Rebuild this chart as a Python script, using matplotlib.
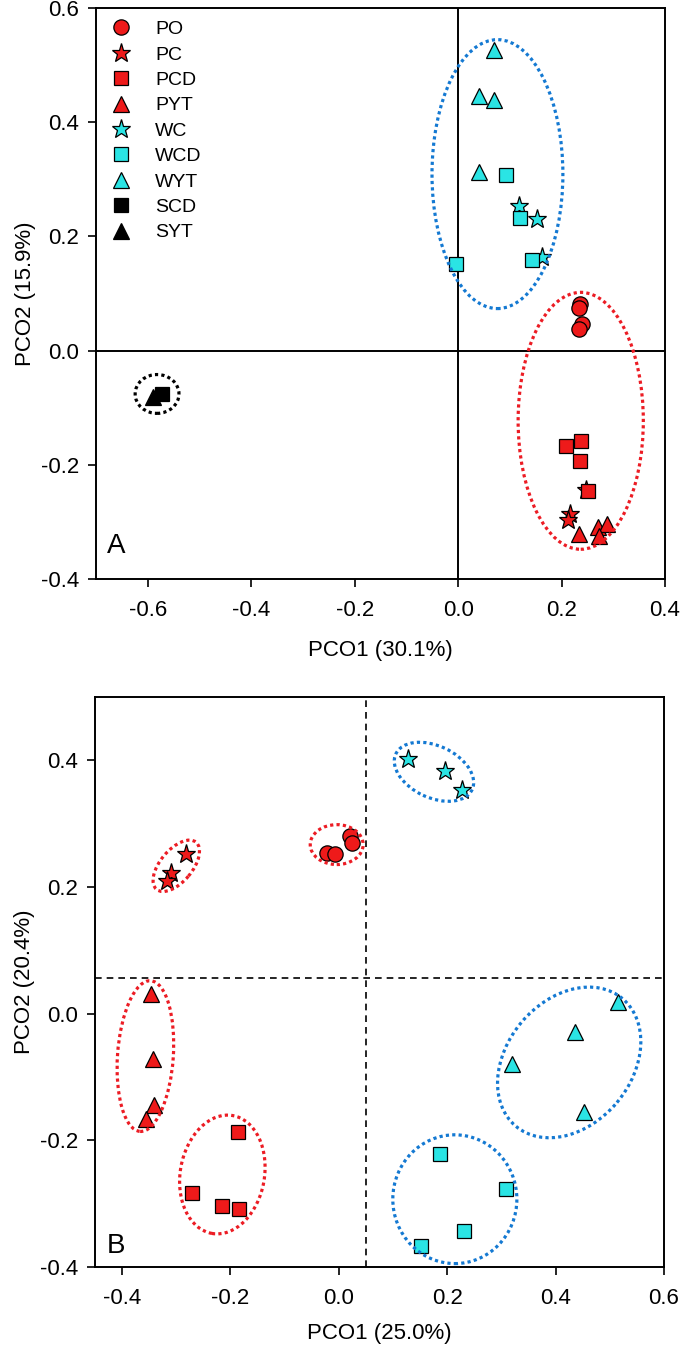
import numpy as np
import matplotlib
matplotlib.use('Agg')
import matplotlib.pyplot as plt
from matplotlib.patches import Ellipse

plt.rcParams['font.family'] = ['Liberation Sans', 'DejaVu Sans']

# ---- panel A (PCO1 30.1%, PCO2 15.9%) ----
a_po_x = [0.236, 0.234, 0.240, 0.234]
a_po_y = [0.082, 0.075, 0.047, 0.037]
a_pc_x = [0.216, 0.213, 0.248]
a_pc_y = [-0.287, -0.296, -0.245]
a_pcd_x = [0.209, 0.237, 0.236, 0.251]
a_pcd_y = [-0.168, -0.159, -0.193, -0.246]
a_pyt_x = [0.234, 0.270, 0.288, 0.272]
a_pyt_y = [-0.321, -0.309, -0.303, -0.324]
a_wc_x = [0.118, 0.153, 0.163]
a_wc_y = [0.254, 0.230, 0.163]
a_wcd_x = [0.093, 0.120, -0.004, 0.143]
a_wcd_y = [0.308, 0.233, 0.152, 0.158]
a_wyt_x = [0.070, 0.041, 0.070, 0.041]
a_wyt_y = [0.527, 0.446, 0.439, 0.312]
a_scd_x = [-0.573]
a_scd_y = [-0.076]
a_syt_x = [-0.589]
a_syt_y = [-0.081]

# ---- panel B (PCO1 25.0%, PCO2 20.4%) ----
b_po_x = [-0.021, -0.008, 0.020, 0.024]
b_po_y = [0.254, 0.252, 0.280, 0.270]
b_pc_x = [-0.282, -0.309, -0.317]
b_pc_y = [0.252, 0.222, 0.209]
b_pcd_x = [-0.187, -0.271, -0.215, -0.185]
b_pcd_y = [-0.187, -0.284, -0.304, -0.308]
b_pyt_x = [-0.346, -0.343, -0.341, -0.355]
b_pyt_y = [0.031, -0.071, -0.145, -0.166]
b_wc_x = [0.128, 0.196, 0.227]
b_wc_y = [0.402, 0.384, 0.354]
b_wcd_x = [0.187, 0.309, 0.230, 0.152]
b_wcd_y = [-0.222, -0.277, -0.344, -0.367]
b_wyt_x = [0.516, 0.435, 0.320, 0.453]
b_wyt_y = [0.019, -0.029, -0.080, -0.155]
b_vline = 0.05
b_hline = 0.057

# group ellipses: centre (data), width/height (axes fraction), angle, colour
a_ell_cx = [0.076, 0.237, -0.582]
a_ell_cy = [0.309, -0.123, -0.076]
a_ell_w = [0.230, 0.220, 0.077]
a_ell_h = [0.471, 0.450, 0.068]
a_ell_ang = [0, 0, 0]
a_ell_col = ['blue', 'red', 'black']

b_ell_cx = [0.1755, -0.004, -0.300, -0.357, -0.215, 0.425, 0.214]
b_ell_cy = [0.382, 0.267, 0.2335, -0.067, -0.254, -0.077, -0.293]
b_ell_w = [0.148, 0.093, 0.108, 0.098, 0.148, 0.292, 0.218]
b_ell_h = [0.091, 0.070, 0.056, 0.265, 0.210, 0.219, 0.226]
b_ell_ang = [-25, 0, 50, -4, -10, 50, 0]
b_ell_col = ['blue', 'red', 'red', 'red', 'red', 'blue', 'blue']

RED = '#ee1a1a'
CYAN = '#2ae4e4'
colmap = {'red': '#ec1c24', 'blue': '#1479d2', 'black': 'black'}

fig = plt.figure(figsize=(6.8, 13.53), dpi=100)
axA = fig.add_axes([0.1412, 0.5721, 0.8368, 0.4220])
axB = fig.add_axes([0.1397, 0.0636, 0.8368, 0.4212])

def pts(ax, x, y, m, fc, ms, label=None):
    ax.plot(x, y, linestyle='none', marker=m, markerfacecolor=fc,
            markeredgecolor='black', markeredgewidth=0.9, markersize=ms,
            label=label, zorder=3)

def ellipses(ax, cx, cy, w, h, ang, col):
    for i in range(len(cx)):
        fx, fy = ax.transLimits.transform((cx[i], cy[i]))
        e = Ellipse((fx, fy), w[i], h[i], angle=ang[i], transform=ax.transAxes,
                    fill=False, edgecolor=colmap[col[i]], linewidth=2.3,
                    linestyle=(0, (1, 1)), zorder=4)
        e.set_capstyle('butt')
        ax.add_patch(e)

for ax in (axA, axB):
    for s in ax.spines.values():
        s.set_linewidth(1.4)
    ax.tick_params(direction='out', length=6, width=1.2, labelsize=16,
                   top=False, right=False)
    ax.tick_params(axis='x', pad=9)
    ax.tick_params(axis='y', pad=6)

# panel A
axA.set_xlim(-0.7, 0.4)
axA.set_ylim(-0.4, 0.6)
axA.set_xticks([-0.6, -0.4, -0.2, 0.0, 0.2, 0.4])
axA.set_yticks([-0.4, -0.2, 0.0, 0.2, 0.4, 0.6])
axA.xaxis.set_major_formatter(plt.FormatStrFormatter('%.1f'))
axA.yaxis.set_major_formatter(plt.FormatStrFormatter('%.1f'))
axA.axvline(0, color='black', linewidth=1.4, zorder=1)
axA.axhline(0, color='black', linewidth=1.4, zorder=1)
pts(axA, a_po_x, a_po_y, 'o', RED, 11, 'PO')
pts(axA, a_pc_x, a_pc_y, '*', RED, 14, 'PC')
pts(axA, a_pcd_x, a_pcd_y, 's', RED, 9.5, 'PCD')
pts(axA, a_pyt_x, a_pyt_y, '^', RED, 11, 'PYT')
pts(axA, a_wc_x, a_wc_y, '*', CYAN, 14, 'WC')
pts(axA, a_wcd_x, a_wcd_y, 's', CYAN, 9.5, 'WCD')
pts(axA, a_wyt_x, a_wyt_y, '^', CYAN, 11, 'WYT')
pts(axA, a_scd_x, a_scd_y, 's', 'black', 9.5, 'SCD')
pts(axA, a_syt_x, a_syt_y, '^', 'black', 11, 'SYT')
ellipses(axA, a_ell_cx, a_ell_cy, a_ell_w, a_ell_h, a_ell_ang, a_ell_col)
axA.legend(loc='upper left', bbox_to_anchor=(0.0, 1.0), frameon=False,
           fontsize=14, labelspacing=0.4, handletextpad=1.1,
           borderaxespad=0.25, numpoints=1, handlelength=1.3)
axA.text(0.02, 0.045, 'A', transform=axA.transAxes, fontsize=20)
axA.set_xlabel('PCO1 (30.1%)', fontsize=16, labelpad=14)
axA.set_ylabel('PCO2 (15.9%)', fontsize=16, labelpad=4)

# panel B
axB.set_xlim(-0.45, 0.6)
axB.set_ylim(-0.4, 0.5)
axB.set_xticks([-0.4, -0.2, 0.0, 0.2, 0.4, 0.6])
axB.set_yticks([-0.4, -0.2, 0.0, 0.2, 0.4])
axB.xaxis.set_major_formatter(plt.FormatStrFormatter('%.1f'))
axB.yaxis.set_major_formatter(plt.FormatStrFormatter('%.1f'))
axB.axvline(b_vline, color='black', linewidth=1.2, linestyle=(0, (4, 3)), zorder=1)
axB.axhline(b_hline, color='black', linewidth=1.2, linestyle=(0, (4, 3)), zorder=1)
pts(axB, b_po_x, b_po_y, 'o', RED, 11)
pts(axB, b_pc_x, b_pc_y, '*', RED, 14)
pts(axB, b_pcd_x, b_pcd_y, 's', RED, 9.5)
pts(axB, b_pyt_x, b_pyt_y, '^', RED, 11)
pts(axB, b_wc_x, b_wc_y, '*', CYAN, 14)
pts(axB, b_wcd_x, b_wcd_y, 's', CYAN, 9.5)
pts(axB, b_wyt_x, b_wyt_y, '^', CYAN, 11)
ellipses(axB, b_ell_cx, b_ell_cy, b_ell_w, b_ell_h, b_ell_ang, b_ell_col)
axB.text(0.02, 0.025, 'B', transform=axB.transAxes, fontsize=20)
axB.set_xlabel('PCO1 (25.0%)', fontsize=16, labelpad=10)
axB.set_ylabel('PCO2 (20.4%)', fontsize=16, labelpad=4)

fig.savefig('out.png', dpi=100)
